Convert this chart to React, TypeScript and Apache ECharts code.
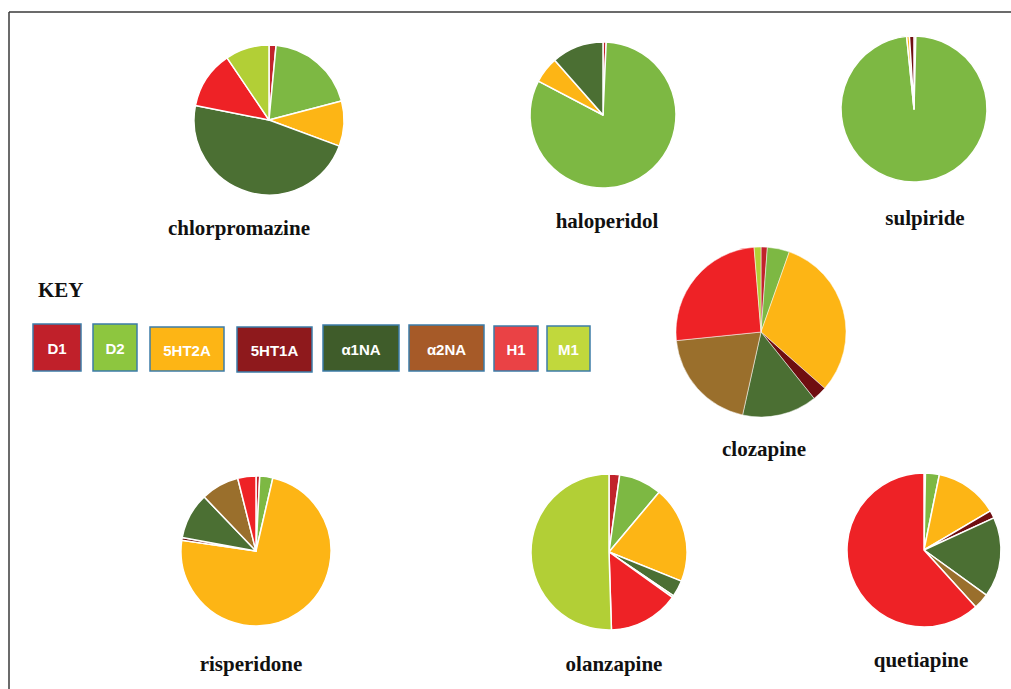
import React, { useEffect, useRef } from "react";
import * as echarts from "echarts";

// Receptor categories (legend order = slice order, clockwise from 12 o'clock)
const receptors = ["D1", "D2", "5HT2A", "5HT1A", "α1NA", "α2NA", "H1", "M1"];

// Relative receptor affinity shares (%)
const chlorpromazine = [1.5, 19.3, 9.7, 0, 47.2, 0, 12.4, 9.4];
const haloperidol = [0.7, 82.0, 5.8, 0, 11.5, 0, 0, 0];
const sulpiride = [0.4, 97.6, 0.6, 1.0, 0, 0, 0, 0];
const clozapine = [1.2, 4.2, 31.1, 2.75, 14.2, 19.9, 25.3, 1.3];
const risperidone = [0.8, 2.8, 73.3, 0.6, 9.9, 8.2, 3.9, 0];
const olanzapine = [2.2, 8.9, 20.0, 0, 3.4, 0.4, 14.6, 50.5];
const quetiapine = [0.3, 2.9, 13.3, 1.6, 16.8, 3.3, 61.6, 0];

const drugNames = [
  "chlorpromazine",
  "haloperidol",
  "sulpiride",
  "clozapine",
  "risperidone",
  "olanzapine",
  "quetiapine",
];
const drugValues = [
  chlorpromazine,
  haloperidol,
  sulpiride,
  clozapine,
  risperidone,
  olanzapine,
  quetiapine,
];

// Styles
const pieColors = ["#c1232b", "#7db843", "#fdb515", "#6f0e11", "#4b6f33", "#9a6f2c", "#ee2226", "#b2cf36"];
const keyColors = ["#c0202a", "#8dc63f", "#fdb515", "#8e191c", "#3f5c2a", "#a65a28", "#ea4245", "#c1d83c"];

// Layout (pixels)
const pieLayout = [
  { cx: 269, cy: 120, r: 75, tx: 239, ty: 228, bw: 1.5 },
  { cx: 603, cy: 115, r: 73, tx: 607, ty: 221, bw: 1.5 },
  { cx: 914, cy: 109, r: 73, tx: 925, ty: 218, bw: 1.5 },
  { cx: 761, cy: 332, r: 85, tx: 764, ty: 449, bw: 0.5 },
  { cx: 256, cy: 551, r: 75, tx: 251, ty: 664, bw: 1.5 },
  { cx: 609, cy: 552, r: 78, tx: 614, ty: 664, bw: 1.5 },
  { cx: 924, cy: 550, r: 77, tx: 921, ty: 660, bw: 1.5 },
];
const keyBoxes = [
  [33, 324, 48, 47],
  [93, 324, 44, 47],
  [150, 327, 74, 44],
  [237, 327, 75, 45],
  [323, 325, 76, 46],
  [409, 325, 75, 46],
  [494, 326, 44, 45],
  [547, 326, 43, 45],
];

const serif = '"Liberation Serif", "Times New Roman", serif';
const sans = '"Liberation Sans", Arial, sans-serif';

export default function App() {
  const ref = useRef<HTMLDivElement>(null);

  useEffect(() => {
    if (!ref.current) return;
    const chart = echarts.init(ref.current, undefined, { renderer: "svg" });

    const series = drugValues.map((vals, i) => {
      const L = pieLayout[i];
      return {
        type: "pie",
        name: drugNames[i],
        center: [L.cx, L.cy],
        radius: [0, L.r],
        startAngle: 90,
        clockwise: true,
        silent: true,
        label: { show: false },
        labelLine: { show: false },
        itemStyle: { borderColor: "#ffffff", borderWidth: L.bw },
        data: receptors
          .map((name, k) => ({
            name,
            value: vals[k],
            itemStyle: { color: pieColors[k] },
          }))
          .filter((d) => d.value > 0),
      };
    });

    const graphics: any[] = [
      {
        type: "line",
        shape: { x1: 9, y1: 12, x2: 1011, y2: 12 },
        style: { stroke: "#3a3a3a", lineWidth: 1.5 },
        silent: true,
      },
      {
        type: "line",
        shape: { x1: 9, y1: 12, x2: 9, y2: 689 },
        style: { stroke: "#3a3a3a", lineWidth: 1.5 },
        silent: true,
      },
      {
        type: "text",
        x: 38,
        y: 290,
        style: {
          text: "KEY",
          fontFamily: serif,
          fontWeight: "bold",
          fontSize: 21,
          fill: "#111",
          align: "left",
          verticalAlign: "middle",
        },
      },
    ];

    drugNames.forEach((n, i) => {
      const L = pieLayout[i];
      graphics.push({
        type: "text",
        x: L.tx,
        y: L.ty,
        style: {
          text: n,
          fontFamily: serif,
          fontWeight: "bold",
          fontSize: 21,
          fill: "#111",
          align: "center",
          verticalAlign: "middle",
        },
      });
    });

    receptors.forEach((r, k) => {
      const [x, y, w, h] = keyBoxes[k];
      graphics.push({
        type: "rect",
        shape: { x, y, width: w, height: h },
        style: { fill: keyColors[k], stroke: "#3d7ca8", lineWidth: 1.5 },
      });
      graphics.push({
        type: "text",
        x: x + w / 2,
        y: y + h / 2 + 1,
        style: {
          text: r,
          fontFamily: sans,
          fontWeight: "bold",
          fontSize: 15,
          fill: "#ffffff",
          align: "center",
          verticalAlign: "middle",
        },
      });
    });

    chart.setOption({
      animation: false,
      backgroundColor: "#ffffff",
      series,
      graphic: graphics,
    });

    return () => chart.dispose();
  }, []);

  return (
    <div
      ref={ref}
      style={{ position: "absolute", left: 0, top: 0, width: 1011, height: 689 }}
    />
  );
}
